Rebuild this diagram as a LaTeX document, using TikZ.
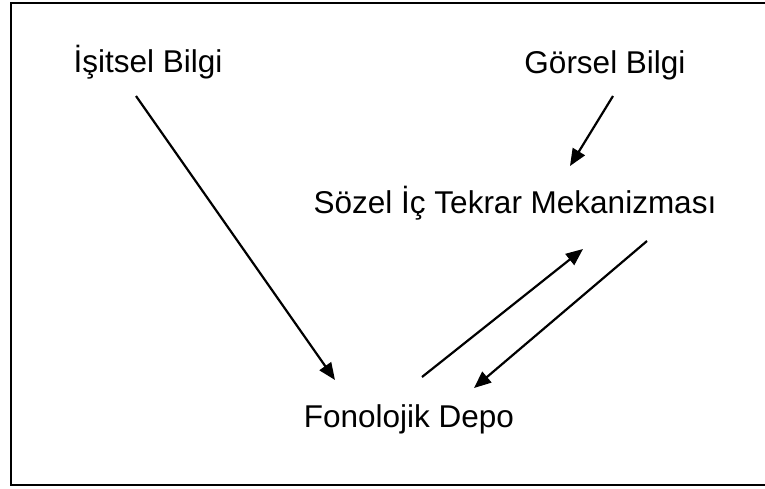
\documentclass[tikz,border=0pt]{standalone}
\usepackage{fontspec}
\setmainfont{Liberation Sans}
\usetikzlibrary{arrows.meta}
\begin{document}
\begin{tikzpicture}[x=1pt,y=-1pt,
  lbl/.style={anchor=base,inner sep=0pt,font=\fontsize{31.5}{36}\selectfont},
  conn/.style={line width=2.2pt,-{Triangle[length=17pt,width=14pt]}},
  frame/.style={line width=1.6pt}]
\useasboundingbox (0,0) rectangle (765,488);
\clip (0,0) rectangle (765,488);
\draw[frame] (780,3) -- (11,3) -- (11,485) -- (780,485);
\node[lbl] (isitsel) at (148,72) {İşitsel Bilgi};
\node[lbl] (gorsel) at (605,73) {Görsel Bilgi};
\node[lbl] (sozel) at (515,213) {Sözel İç Tekrar Mekanizması};
\node[lbl] (fono) at (409,427) {Fonolojik Depo};
\coordinate (a1) at (136,96);
\coordinate (a2) at (335,380);
\coordinate (b1) at (613,96);
\coordinate (b2) at (570,166);
\coordinate (c1) at (422,377);
\coordinate (c2) at (583,249);
\coordinate (d1) at (647,241);
\coordinate (d2) at (474,388);
\draw[conn] (a1) -- (a2);
\draw[conn] (b1) -- (b2);
\draw[conn] (c1) -- (c2);
\draw[conn] (d1) -- (d2);
\end{tikzpicture}
\end{document}
